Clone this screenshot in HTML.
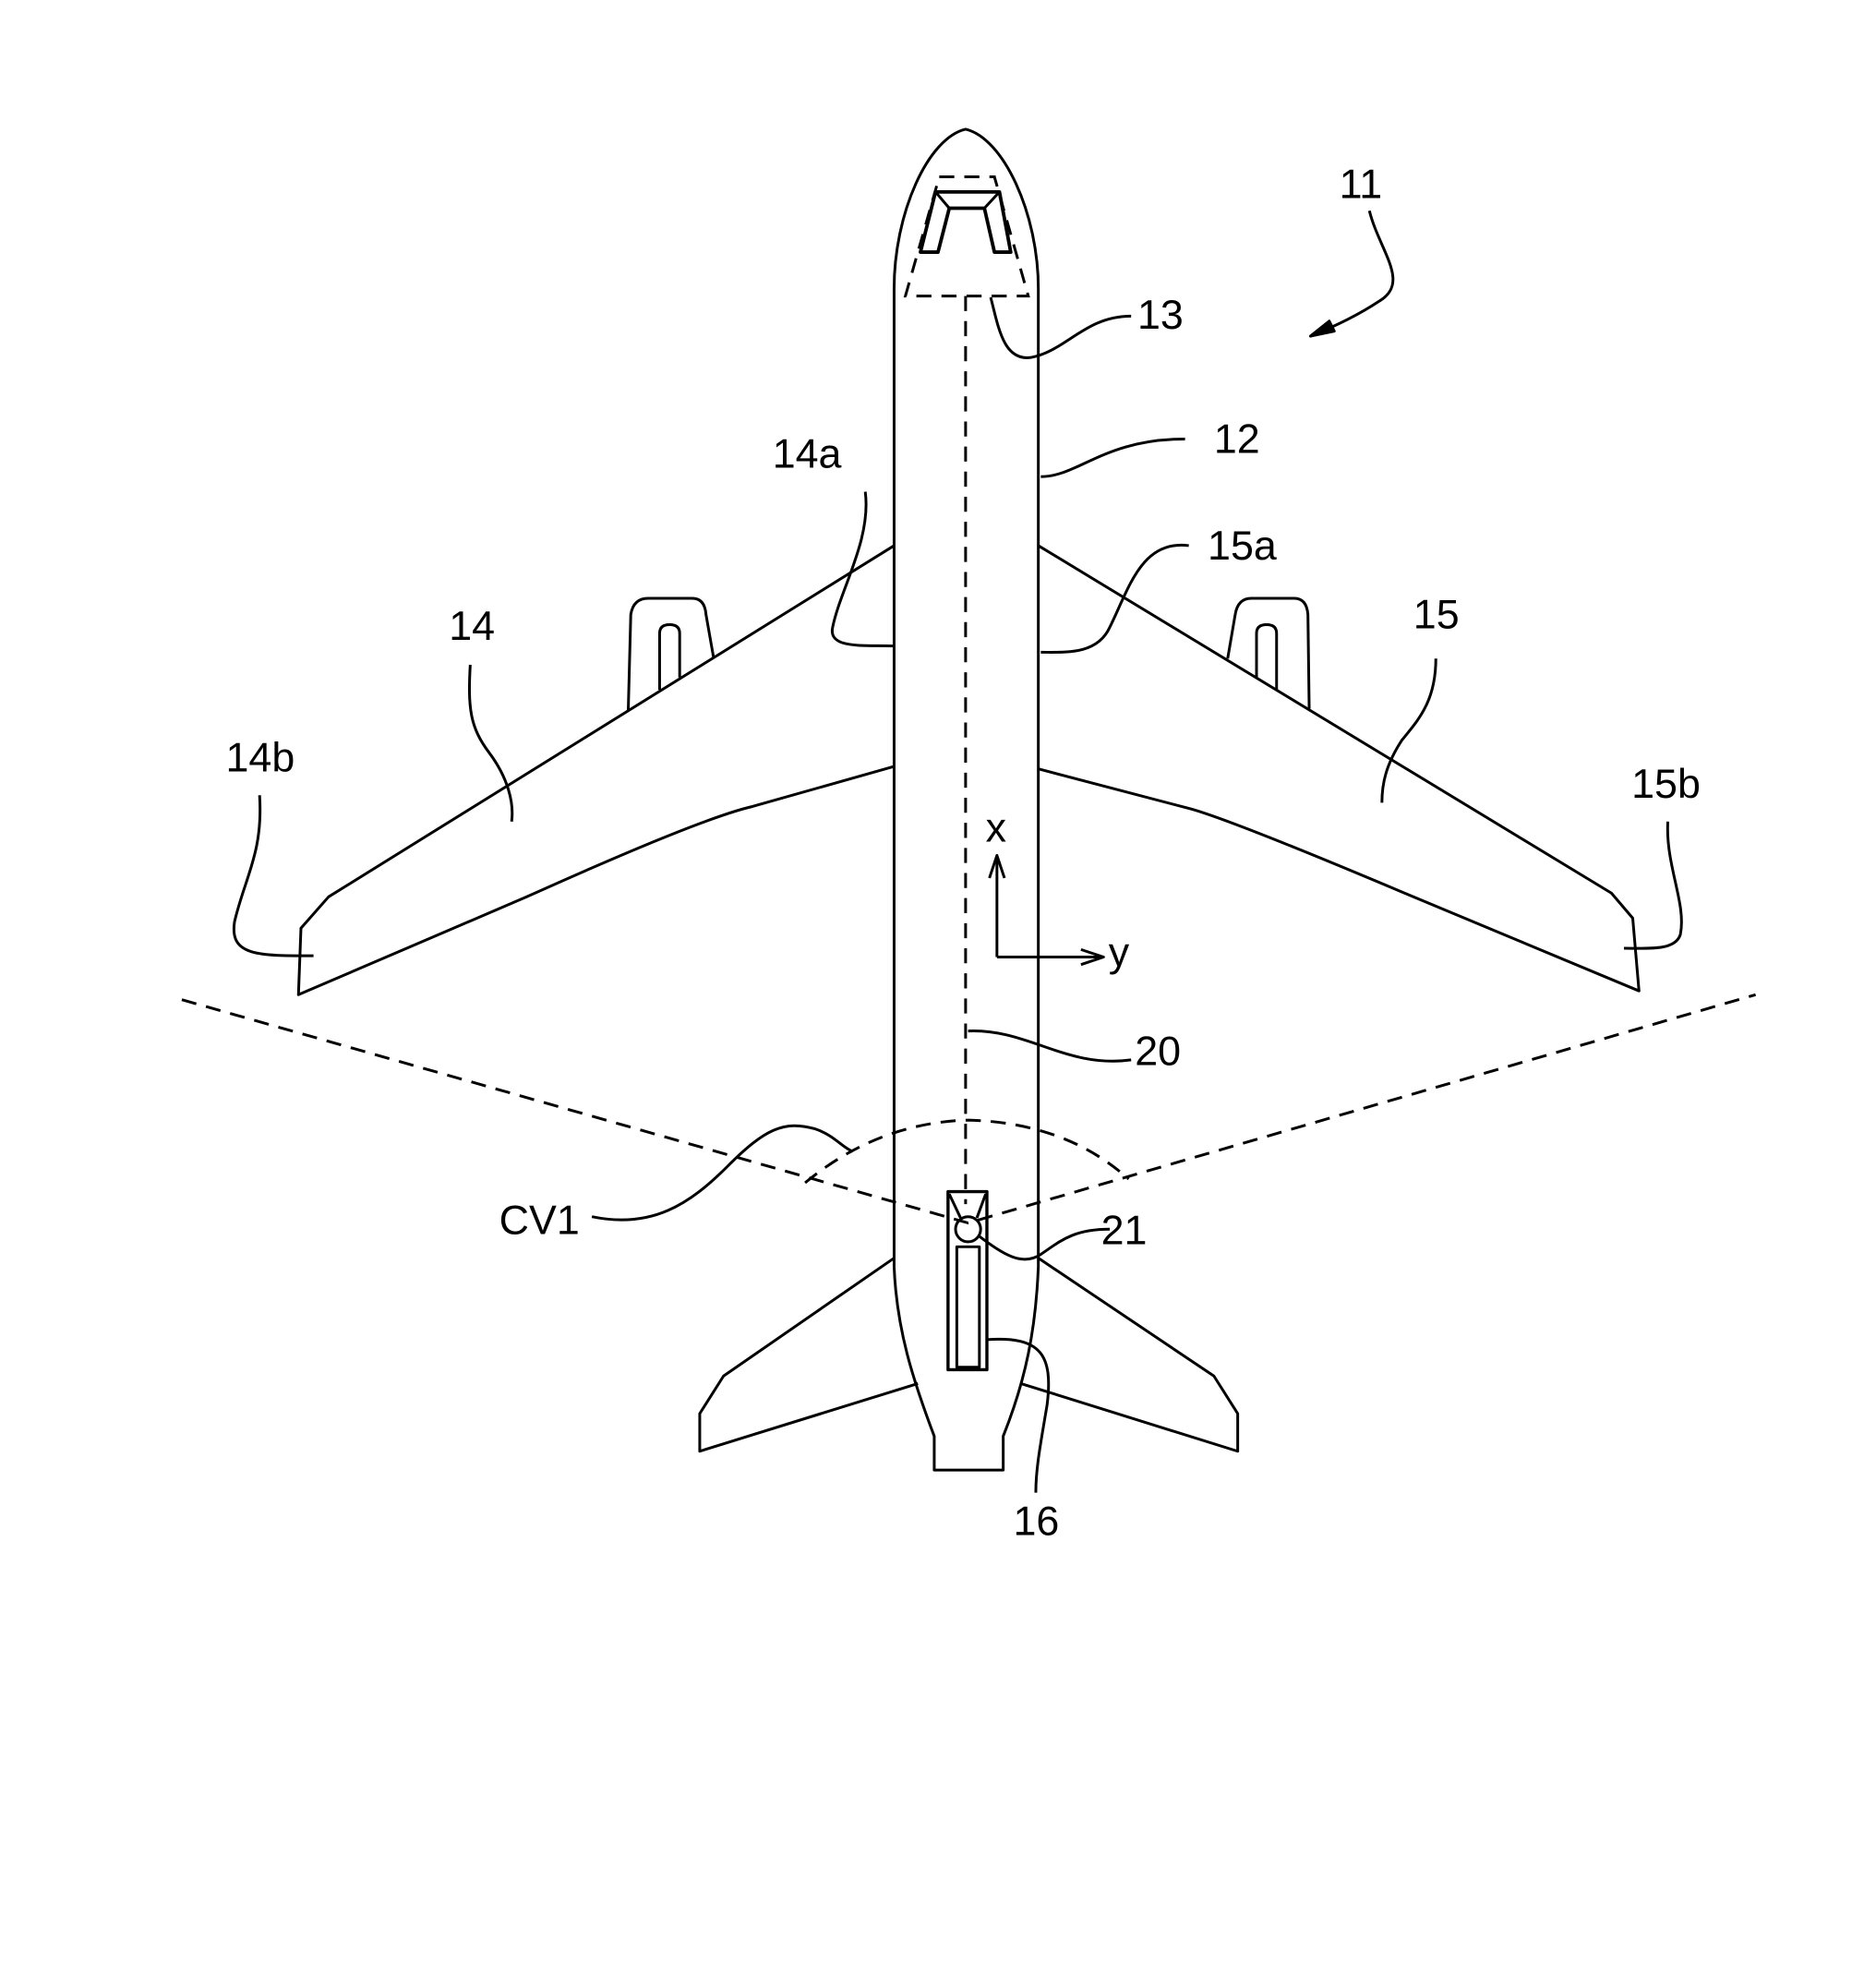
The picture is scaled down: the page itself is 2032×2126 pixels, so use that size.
<!DOCTYPE html>
<html><head><meta charset="utf-8"><style>
html,body{margin:0;padding:0;background:#fff;}
svg{display:block;}
text{font-family:"Liberation Sans",Arial,sans-serif;font-size:33px;fill:#000;}
</style></head><body>
<svg width="2032" height="2126" viewBox="0 0 1496 1565" preserveAspectRatio="none" xmlns="http://www.w3.org/2000/svg">
<g fill="none" stroke="#000" stroke-width="2.2" stroke-linejoin="round">
<path d="M713,1010 L713,230 C713,170 740,110 770,103 C800,110 828,170 828,230 L828,1010 C826,1060 818,1100 800,1145 L800,1172 L745,1172 L745,1145 C728,1100 715,1060 713,1010"/>
<path d="M713,435 L262,715 L240,740 L238,793 L420,715 Q560,652 600,643 L713,611"/>
<path d="M828,435 L1285,712 L1302,732 L1307,790 L1120,712 Q985,655 950,645 L828,613"/>
<path d="M501,566 L503,490 Q505,477 517,477 L552,477 Q562,477 563,490 L569,524"/>
<path d="M526,550 L526,505 Q526,498 534,498 Q542,498 542,505 L542,540"/>
<path d="M979,525 L985,490 Q987,477 998,477 L1032,477 Q1042,477 1043,490 L1044,565"/>
<path d="M1002,540 L1002,505 Q1002,498 1010,498 Q1018,498 1018,505 L1018,550"/>
<path d="M713,1003 L577,1097 L558,1127 L558,1157 L732,1103"/>
<path d="M828,1003 L968,1097 L987,1127 L987,1157 L814,1103"/>
<path d="M746,153 L797,153 L806,201 L793,201 L785,166 L757,166 L748,201 L734,201 Z" stroke-width="2.8"/>
<path d="M746,153 L757,166 M797,153 L785,166" stroke-width="2.2"/>
<rect x="756" y="950" width="31" height="142" stroke-width="2.5"/>
<rect x="763" y="994" width="18" height="96" stroke-width="2.2"/>
<circle cx="772" cy="980" r="10" stroke-width="2.2"/>
<path d="M757,952 L766,971 M786,952 L779,971"/>
<path d="M795,763 L795,682 M795,763 L878,763"/>
<path d="M789,700 L795,682 L801,700" />
<path d="M862,757 L880,763 L862,769"/>
<path d="M1092,168 C1100,200 1125,225 1100,240 C1085,250 1065,260 1045,268"/>
<path d="M1045,268 L1060,256 L1064,264 Z" fill="#000"/>
<path d="M790,237 C796,260 800,288 822,285 C850,280 865,252 902,252"/>
<path d="M830,380 C860,380 880,350 945,350"/>
<path d="M690,392 C695,430 670,470 664,500 C660,518 690,514 712,515"/>
<path d="M948,435 C910,430 900,470 885,500 C875,522 850,520 830,520"/>
<path d="M375,530 C373,565 375,580 390,600 C405,620 410,640 408,655"/>
<path d="M1145,525 C1145,560 1130,575 1118,590 C1105,610 1102,625 1102,640"/>
<path d="M207,634 C210,680 195,700 187,735 C183,762 205,762 250,762"/>
<path d="M1330,655 C1328,690 1345,720 1340,745 C1336,758 1315,756 1295,756"/>
<path d="M772,822 C820,820 850,852 902,845"/>
<path d="M472,970 C520,980 550,960 580,930 C610,900 625,893 650,900 C665,905 672,915 680,918"/>
<path d="M780,985 C800,1000 815,1010 830,1000 C845,990 855,980 885,980"/>
<path d="M787,1068 C830,1065 840,1080 835,1120 C830,1150 826,1170 826,1190"/>
</g>
<g fill="none" stroke="#000" stroke-width="2.2" stroke-dasharray="12,8">
<path d="M770,236 L770,960"/>
<path d="M145,797 L772,975 L1400,793"/>
<path d="M642,943 Q700,895 772,893 Q850,895 900,940"/>
<path d="M749,141 L793,141 L820,236 L722,236 Z"/>
</g>
<text x="1068" y="158">11</text>
<text x="907" y="262">13</text>
<text x="968" y="361">12</text>
<text x="616" y="373">14a</text>
<text x="963" y="446">15a</text>
<text x="358" y="510">14</text>
<text x="1127" y="501">15</text>
<text x="180" y="615">14b</text>
<text x="1301" y="636">15b</text>
<text x="786" y="671">x</text>
<text x="884" y="770">y</text>
<text x="905" y="849">20</text>
<text x="398" y="984">CV1</text>
<text x="878" y="992">21</text>
<text x="808" y="1224">16</text>
</svg>
</body></html>
